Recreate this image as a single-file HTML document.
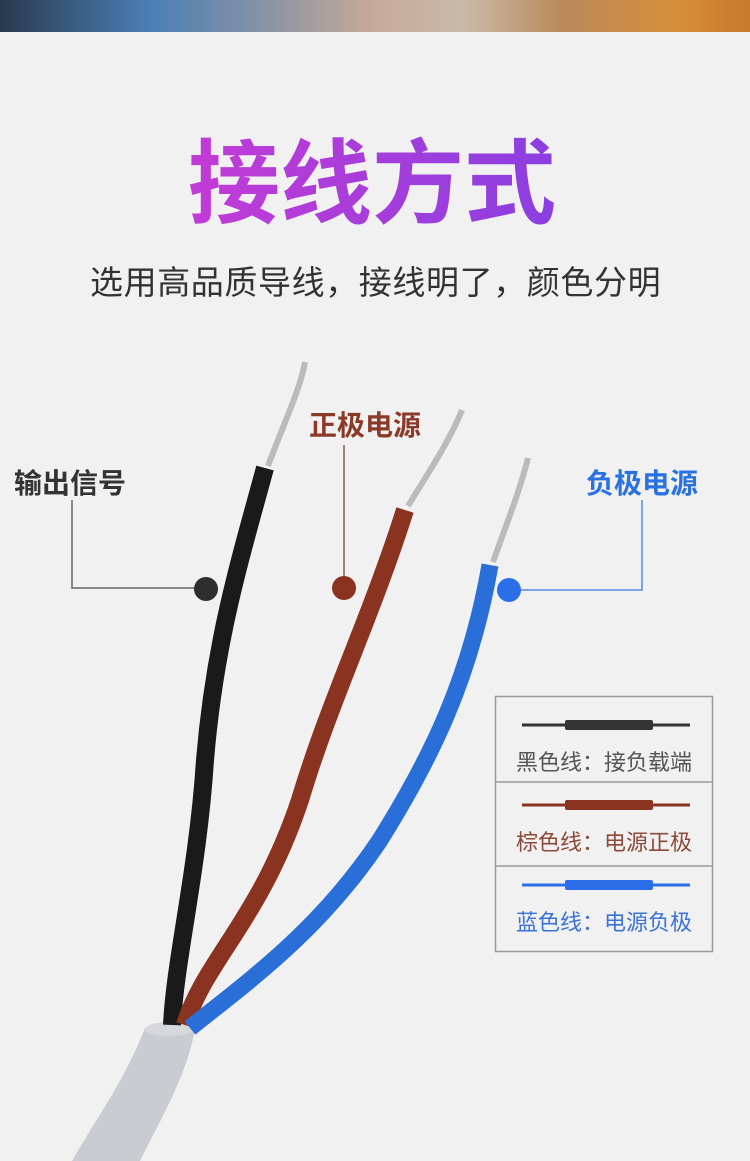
<!DOCTYPE html>
<html><head><meta charset="utf-8"><style>
body{margin:0;width:750px;height:1161px;background:#f1f1f1;position:relative;overflow:hidden;font-family:"Liberation Sans","Noto Sans CJK SC",sans-serif}
.banner{position:absolute;left:0;top:0;width:750px;height:32px;background:linear-gradient(90deg,#2a3a4e 0%,#4a7fb5 20%,#7a8ea8 32%,#c8aa98 50%,#c9b9a8 62%,#b98a5a 75%,#d88e3a 90%,#c77a2a 100%)}
.t{position:absolute;white-space:nowrap}
</style></head><body>
<div class="banner"></div>
<div class="t" style="left:188px;top:130px;font-size:92px;font-weight:bold;background:linear-gradient(90deg,#c33bd6,#8a3fe0);-webkit-background-clip:text;background-clip:text;color:transparent;line-height:110px">接线方式</div>
<div class="t" style="left:90px;top:262px;font-size:33px;letter-spacing:0.6px;color:#333;line-height:42px">选用高品质导线，接线明了，颜色分明</div>
<div class="t" style="left:14px;top:462px;font-size:28px;font-weight:bold;color:#333">输出信号</div>
<div class="t" style="left:309px;top:404px;font-size:28px;font-weight:bold;color:#8b3a28">正极电源</div>
<div class="t" style="left:586px;top:462px;font-size:28px;font-weight:bold;color:#2a72e0">负极电源</div>
<svg width="750" height="1161" style="position:absolute;left:0;top:0">
<polyline points="72,500 72,588 206,588" fill="none" stroke="#666" stroke-width="1.5"/>
<line x1="344" y1="445" x2="344" y2="588" stroke="#8b5a4a" stroke-width="1.5"/>
<polyline points="642,500 642,590 509,590" fill="none" stroke="#5a8ae0" stroke-width="1.5"/>
<path d="M145,1028 L195,1030 C185,1080 160,1120 140,1161 L72,1161 C95,1120 125,1080 145,1028Z" fill="#c9ccd1"/>
<ellipse cx="170" cy="1029" rx="25" ry="7" fill="#d6d8dc"/>
<path d="M268,466 C285,420 300,390 305,362" stroke="#bbb" stroke-width="6" fill="none"/>
<path d="M408,506 C430,470 450,440 462,410" stroke="#bbb" stroke-width="6" fill="none"/>
<path d="M493,562 C508,520 520,490 528,458" stroke="#bbb" stroke-width="6" fill="none"/>
<path d="M265,468 C240,560 215,640 205,760 C198,870 175,960 172,1025" stroke="#1a1a1a" stroke-width="18" fill="none"/>
<path d="M405,510 C370,620 330,700 300,800 C260,920 205,960 185,1025" stroke="#8b3321" stroke-width="18" fill="none"/>
<path d="M490,565 C470,680 430,760 380,840 C320,930 250,980 190,1028" stroke="#2a6fd8" stroke-width="17" fill="none"/>
<circle cx="206" cy="589" r="12" fill="#2e2e2e"/>
<circle cx="344" cy="588" r="12" fill="#8b3321"/>
<circle cx="509" cy="590" r="12" fill="#2a6fe8"/>
<rect x="495.5" y="696.5" width="217" height="255" fill="none" stroke="#999" stroke-width="1.5"/>
<line x1="496" y1="782" x2="712" y2="782" stroke="#999" stroke-width="1.5"/>
<line x1="496" y1="866" x2="712" y2="866" stroke="#999" stroke-width="1.5"/>
<line x1="522" y1="725" x2="690" y2="725" stroke="#333" stroke-width="3"/>
<rect x="565" y="720" width="88" height="10" rx="2" fill="#333"/>
<line x1="522" y1="805" x2="690" y2="805" stroke="#8b3321" stroke-width="3"/>
<rect x="565" y="800" width="88" height="10" rx="2" fill="#8b3321"/>
<line x1="522" y1="885" x2="690" y2="885" stroke="#2a6fe8" stroke-width="3"/>
<rect x="565" y="880" width="88" height="10" rx="2" fill="#2a6fe8"/>
</svg>
<div class="t" style="left:516px;top:745px;font-size:22px;color:#555">黑色线：接负载端</div>
<div class="t" style="left:516px;top:825px;font-size:22px;color:#8b4a3a">棕色线：电源正极</div>
<div class="t" style="left:516px;top:905px;font-size:22px;color:#3a72d8">蓝色线：电源负极</div>
</body></html>
